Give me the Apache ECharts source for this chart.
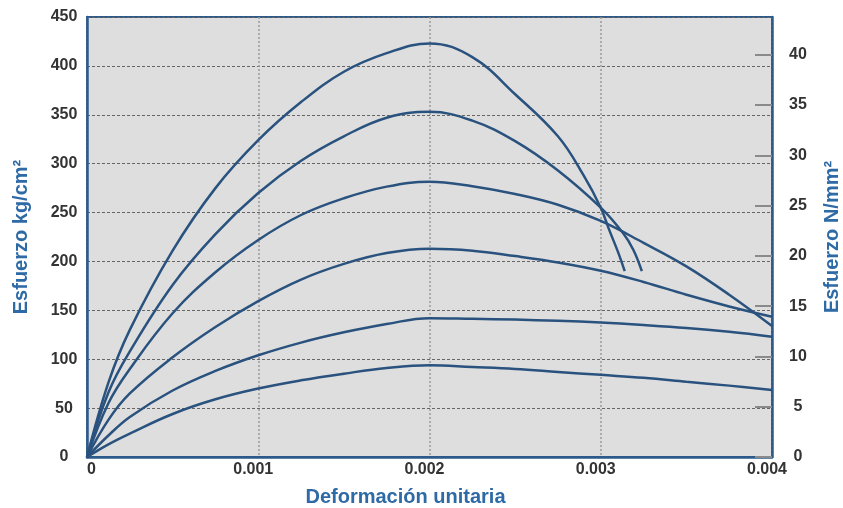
<!DOCTYPE html>
<html>
<head>
<meta charset="utf-8">
<script src="https://cdn.jsdelivr.net/npm/echarts@6/dist/echarts.min.js"></script>
<style>
  html, body { margin: 0; padding: 0; background: #fff; }
  #chart { width: 843px; height: 508px; }
</style>
</head>
<body>
<div id="chart"></div>
<script>
// [deformacion, esfuerzo kg/cm2]
var curve1 = [[0, 0], [0.000125, 76], [0.00025, 130], [0.0005, 211], [0.00075, 275], [0.001, 324], [0.00125, 363], [0.0015, 394], [0.00175, 413], [0.002, 423], [0.00225, 409], [0.0025, 371], [0.00275, 328], [0.0029, 288], [0.003, 255], [0.00305, 232], [0.0031, 210], [0.00314, 190]];
var curve2 = [[0, 0], [0.000125, 66], [0.00025, 108], [0.0005, 176], [0.00075, 228], [0.001, 270], [0.00125, 303], [0.0015, 328], [0.00175, 347], [0.002, 353], [0.00225, 344], [0.0025, 323], [0.00275, 293], [0.003, 255], [0.00313, 229], [0.00319, 212], [0.00324, 190]];
var curve3 = [[0, 0], [0.000125, 55], [0.00025, 90], [0.0005, 147], [0.00075, 189], [0.001, 222], [0.00125, 247.5], [0.0015, 264.6], [0.00175, 276.5], [0.002, 281.6], [0.00225, 277], [0.0025, 269], [0.00275, 258], [0.003, 241.4], [0.00325, 219], [0.0035, 195], [0.00375, 166], [0.004, 134]];
var curve4 = [[0, 0], [0.000125, 38], [0.00025, 65], [0.0005, 102], [0.00075, 133], [0.001, 159.5], [0.00125, 181.5], [0.0015, 197.5], [0.00175, 208.6], [0.002, 213], [0.00225, 211], [0.0025, 205.5], [0.00275, 199], [0.003, 190.5], [0.00325, 179], [0.0035, 166], [0.00375, 154], [0.004, 143.5]];
var curve5 = [[0, 0], [0.000125, 22], [0.00025, 41], [0.0005, 68], [0.00075, 88], [0.001, 104], [0.00125, 117], [0.0015, 127.5], [0.00175, 136], [0.002, 142], [0.00225, 141.3], [0.0025, 140.5], [0.00275, 139.3], [0.003, 137.5], [0.00325, 135], [0.0035, 132], [0.00375, 128], [0.004, 123]];
var curve6 = [[0, 0], [0.000125, 13], [0.00025, 24], [0.0005, 44], [0.00075, 59], [0.001, 70], [0.00125, 78.4], [0.0015, 85.2], [0.00175, 91], [0.002, 93.8], [0.00225, 92], [0.0025, 90], [0.00275, 87], [0.003, 84], [0.00325, 81], [0.0035, 77], [0.00375, 73], [0.004, 68.5]];
var rightTicks = [0, 5, 10, 15, 20, 25, 30, 35, 40];

var chart = echarts.init(document.getElementById("chart"));

var lineColor = "#2a527e";
var allCurves = [curve1, curve2, curve3, curve4, curve5, curve6];

var series = allCurves.map(function (d) {
  return {
    type: "line",
    data: d,
    showSymbol: false,
    smooth: 0.4,
    lineStyle: { color: lineColor, width: 2.5 },
    silent: true,
  };
});

var option = {
  animation: false,
  textStyle: { fontFamily: "Liberation Sans, Arial, sans-serif" },
  grid: {
    left: 87,
    right: 71,
    top: 17,
    bottom: 51,
    outerBoundsMode: "none",
    containLabel: false,
    show: true,
    backgroundColor: "#dedede",
    borderColor: "#2c5a8a",
    borderWidth: 2,
  },
  xAxis: {
    type: "value",
    min: 0,
    max: 0.004,
    interval: 0.001,
    name: "Deformación unitaria",
    nameLocation: "middle",
    nameGap: 30,
    nameTextStyle: {
      color: "#2e6aa6",
      fontSize: 20,
      fontWeight: "bold",
      padding: [0, 48, 0, 0],
    },
    axisLine: { show: true, lineStyle: { color: "#2c5a8a", width: 2.5 } },
    axisTick: { show: false },
    axisLabel: {
      color: "#333",
      fontSize: 16,
      fontWeight: "bold",
      margin: 5,
      padding: [0, 10, 0, 0],
      alignMinLabel: "left",
      formatter: function (v) {
        return v === 0 ? "0" : v.toFixed(3);
      },
    },
    splitLine: {
      show: true,
      lineStyle: { color: "#9a9a9a", width: 1.5, type: [2, 2] },
    },
  },
  yAxis: [
    {
      type: "value",
      min: 0,
      max: 450,
      interval: 50,
      name: "Esfuerzo kg/cm²",
      nameLocation: "middle",
      nameGap: 56,
      nameRotate: 90,
      nameTextStyle: { color: "#2e6aa6", fontSize: 20, fontWeight: "bold" },
      axisLine: { show: true, lineStyle: { color: "#2c5a8a", width: 2.5 } },
      axisTick: { show: false },
      axisLabel: {
        color: "#333",
        fontSize: 16,
        fontWeight: "bold",
        align: "center",
        margin: 23,
      },
      splitLine: {
        show: true,
        lineStyle: { color: "#666", width: 1, type: [3, 2] },
      },
    },
    {
      type: "value",
      position: "right",
      min: 0,
      max: 43.75,
      name: "Esfuerzo N/mm²",
      nameLocation: "middle",
      nameGap: 50,
      nameRotate: 90,
      nameTextStyle: { color: "#2e6aa6", fontSize: 20, fontWeight: "bold" },
      axisLine: { show: true, lineStyle: { color: "#2c5a8a", width: 2.5 } },
      axisTick: {
        show: true,
        inside: true,
        length: 17,
        customValues: rightTicks,
        lineStyle: { color: "#8a8a8a", width: 2 },
      },
      axisLabel: {
        color: "#333",
        fontSize: 16,
        fontWeight: "bold",
        align: "center",
        margin: 26,
        customValues: rightTicks,
      },
      splitLine: { show: false },
    },
  ],
  series: series,
};

chart.setOption(option);
</script>
</body>
</html>
